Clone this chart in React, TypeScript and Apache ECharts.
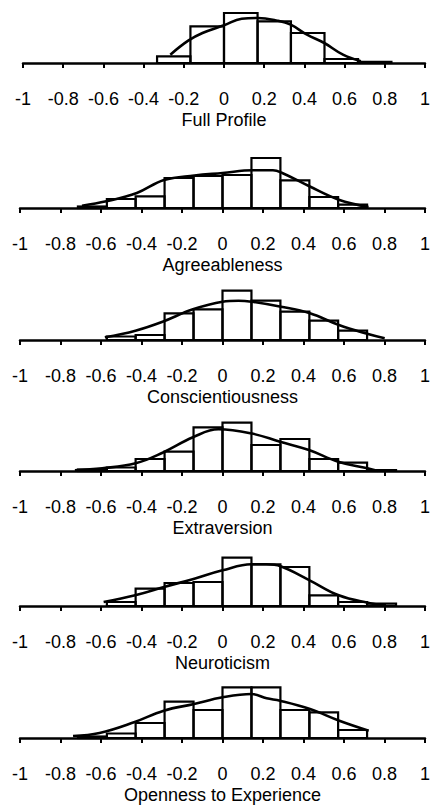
import React, { useEffect, useRef } from "react";
import * as echarts from "echarts";

// ---- Data ----
const titles = [
  "Full Profile",
  "Agreeableness",
  "Conscientiousness",
  "Extraversion",
  "Neuroticism",
  "Openness to Experience",
];

// histogram bin edges per panel
const edgesFull = [-0.333, -0.167, 0, 0.167, 0.333, 0.5, 0.667, 0.833];
const heightsFull = [6.7, 36.7, 50, 41.7, 30, 4, 1.2];

const edgesAgree = [-0.714, -0.571, -0.429, -0.286, -0.143, 0, 0.143, 0.286, 0.429, 0.571, 0.714];
const heightsAgree = [1.5, 9, 11.7, 30, 32, 33, 50, 27.7, 11, 3.3];

const edgesConsc = [-0.571, -0.429, -0.286, -0.143, 0, 0.143, 0.286, 0.429, 0.571, 0.714];
const heightsConsc = [3.5, 5, 26.7, 30.7, 49.3, 39.3, 28.3, 19.3, 9.3];

const edgesExtra = [-0.714, -0.571, -0.429, -0.286, -0.143, 0, 0.143, 0.286, 0.429, 0.571, 0.714, 0.857];
const heightsExtra = [1.5, 3.5, 12, 19.3, 43.7, 48.3, 26, 32, 12, 8.3, 1];

const edgesNeuro = [-0.571, -0.429, -0.286, -0.143, 0, 0.143, 0.286, 0.429, 0.571, 0.714, 0.857];
const heightsNeuro = [4, 17.3, 23, 24, 48.3, 41.7, 39, 10.7, 4, 2.3];

const edgesOpen = [-0.714, -0.571, -0.429, -0.286, -0.143, 0, 0.143, 0.286, 0.429, 0.571, 0.714];
const heightsOpen = [1.5, 4.5, 15, 36.3, 28, 50.7, 50.7, 28, 25.7, 8];

// smooth density curves per panel
const curveFullX = [-0.267, -0.178, -0.107, 0, 0.088, 0.169, 0.266, 0.332, 0.413, 0.499, 0.592, 0.681];
const curveFullY = [8.3, 22.3, 30, 37.7, 44.3, 45, 42.3, 38.3, 28.3, 20, 8.3, 1.7];

const curveAgreeX = [-0.694, -0.574, -0.423, -0.289, -0.139, 0, 0.151, 0.249, 0.295, 0.429, 0.574, 0.721];
const curveAgreeY = [2.3, 6.7, 15, 28, 32.5, 35, 37.7, 37.7, 35, 21.7, 8.3, 1];

const curveConscX = [-0.581, -0.43, -0.296, -0.146, 0, 0.079, 0.144, 0.289, 0.432, 0.575, 0.719, 0.801];
const curveConscY = [2.7, 9.3, 18.3, 30.7, 38.3, 39.3, 38.3, 33.3, 26.7, 15, 6, 1.7];

const curveExtraX = [-0.729, -0.594, -0.429, -0.296, -0.146, -0.02, 0.14, 0.284, 0.427, 0.571, 0.716, 0.768];
const curveExtraY = [0.7, 2.7, 7.7, 18.3, 33.7, 41.7, 37.7, 29.3, 21, 9.3, 2.7, 0];

const curveNeuroX = [-0.587, -0.431, -0.289, -0.139, 0, 0.143, 0.216, 0.287, 0.43, 0.574, 0.717, 0.807];
const curveNeuroY = [4, 10.7, 19, 27.3, 35.7, 41.7, 41.7, 39.7, 25.7, 10.7, 3.3, 0.7];

const curveOpenX = [-0.738, -0.607, -0.437, -0.29, -0.14, 0, 0.144, 0.218, 0.284, 0.432, 0.577, 0.722];
const curveOpenY = [2, 5, 15.7, 27.3, 34, 40.7, 44, 39.7, 37.3, 29, 17.3, 7.3];

const xMin = -1;
const xMax = 1;
const xInterval = 0.2;
const yMax = 60;

const panels = [
  { title: titles[0], edges: edgesFull, heights: heightsFull, cx: curveFullX, cy: curveFullY },
  { title: titles[1], edges: edgesAgree, heights: heightsAgree, cx: curveAgreeX, cy: curveAgreeY },
  { title: titles[2], edges: edgesConsc, heights: heightsConsc, cx: curveConscX, cy: curveConscY },
  { title: titles[3], edges: edgesExtra, heights: heightsExtra, cx: curveExtraX, cy: curveExtraY },
  { title: titles[4], edges: edgesNeuro, heights: heightsNeuro, cx: curveNeuroX, cy: curveNeuroY },
  { title: titles[5], edges: edgesOpen, heights: heightsOpen, cx: curveOpenX, cy: curveOpenY },
];

// ---- Layout (pixel positions, separate from data) ----
const AXIS_Y = [63, 208, 340, 471, 606, 738];
const GRID_LEFT = [23, 20, 20, 20, 20, 20];
const GRID_RIGHT = [3, 6, 6, 6, 6, 6];
const PLOT_H = 60;
const FONT = "'Liberation Sans', Arial, Helvetica, sans-serif";

export default function App() {
  const ref = useRef<HTMLDivElement>(null);

  useEffect(() => {
    if (!ref.current) return;
    const chart = echarts.init(ref.current, null, { renderer: "svg" });

    const grids: any[] = [];
    const xAxes: any[] = [];
    const yAxes: any[] = [];
    const series: any[] = [];

    panels.forEach((p, i) => {
      grids.push({
        left: GRID_LEFT[i],
        right: GRID_RIGHT[i],
        top: AXIS_Y[i] - PLOT_H,
        height: PLOT_H,
        containLabel: false,
      });
      xAxes.push({
        type: "value",
        gridIndex: i,
        min: xMin,
        max: xMax,
        interval: xInterval,
        name: p.title,
        nameLocation: "middle",
        nameGap: 48,
        nameTextStyle: { color: "#000", fontSize: 18, fontFamily: FONT },
        axisLine: { show: true, onZero: false, lineStyle: { color: "#000", width: 2.5 } },
        axisTick: { show: true, inside: false, length: 5, lineStyle: { color: "#000", width: 2 } },
        axisLabel: {
          show: true,
          margin: 27,
          color: "#000",
          fontSize: 18,
          fontFamily: FONT,
          formatter: (v: number) => String(Math.round(v * 10) / 10),
        },
        splitLine: { show: false },
      });
      yAxes.push({
        type: "value",
        gridIndex: i,
        min: 0,
        max: yMax,
        show: false,
        splitLine: { show: false },
      });
      const binData = p.heights.map((h, k) => [p.edges[k], p.edges[k + 1], h]);
      series.push({
        type: "custom",
        xAxisIndex: i,
        yAxisIndex: i,
        data: binData,
        encode: { x: [0, 1], y: 2 },
        renderItem: (_params: any, api: any) => {
          const x0 = api.value(0);
          const x1 = api.value(1);
          const h = api.value(2);
          const p0 = api.coord([x0, 0]);
          const p1 = api.coord([x1, h]);
          return {
            type: "rect",
            shape: { x: p0[0], y: p1[1], width: p1[0] - p0[0], height: p0[1] - p1[1] },
            style: { fill: "none", stroke: "#000", lineWidth: 2.2 },
          };
        },
        z: 2,
      });
      series.push({
        type: "line",
        xAxisIndex: i,
        yAxisIndex: i,
        data: p.cx.map((x, k) => [x, p.cy[k]]),
        smooth: 0.4,
        showSymbol: false,
        symbol: "none",
        lineStyle: { color: "#000", width: 2.6 },
        z: 3,
      });
    });

    chart.setOption({
      animation: false,
      backgroundColor: "#fff",
      grid: grids,
      xAxis: xAxes,
      yAxis: yAxes,
      series,
    });

    return () => {
      chart.dispose();
    };
  }, []);

  return (
    <div
      ref={ref}
      style={{ position: "absolute", left: 0, top: 0, width: 433, height: 809 }}
    />
  );
}
